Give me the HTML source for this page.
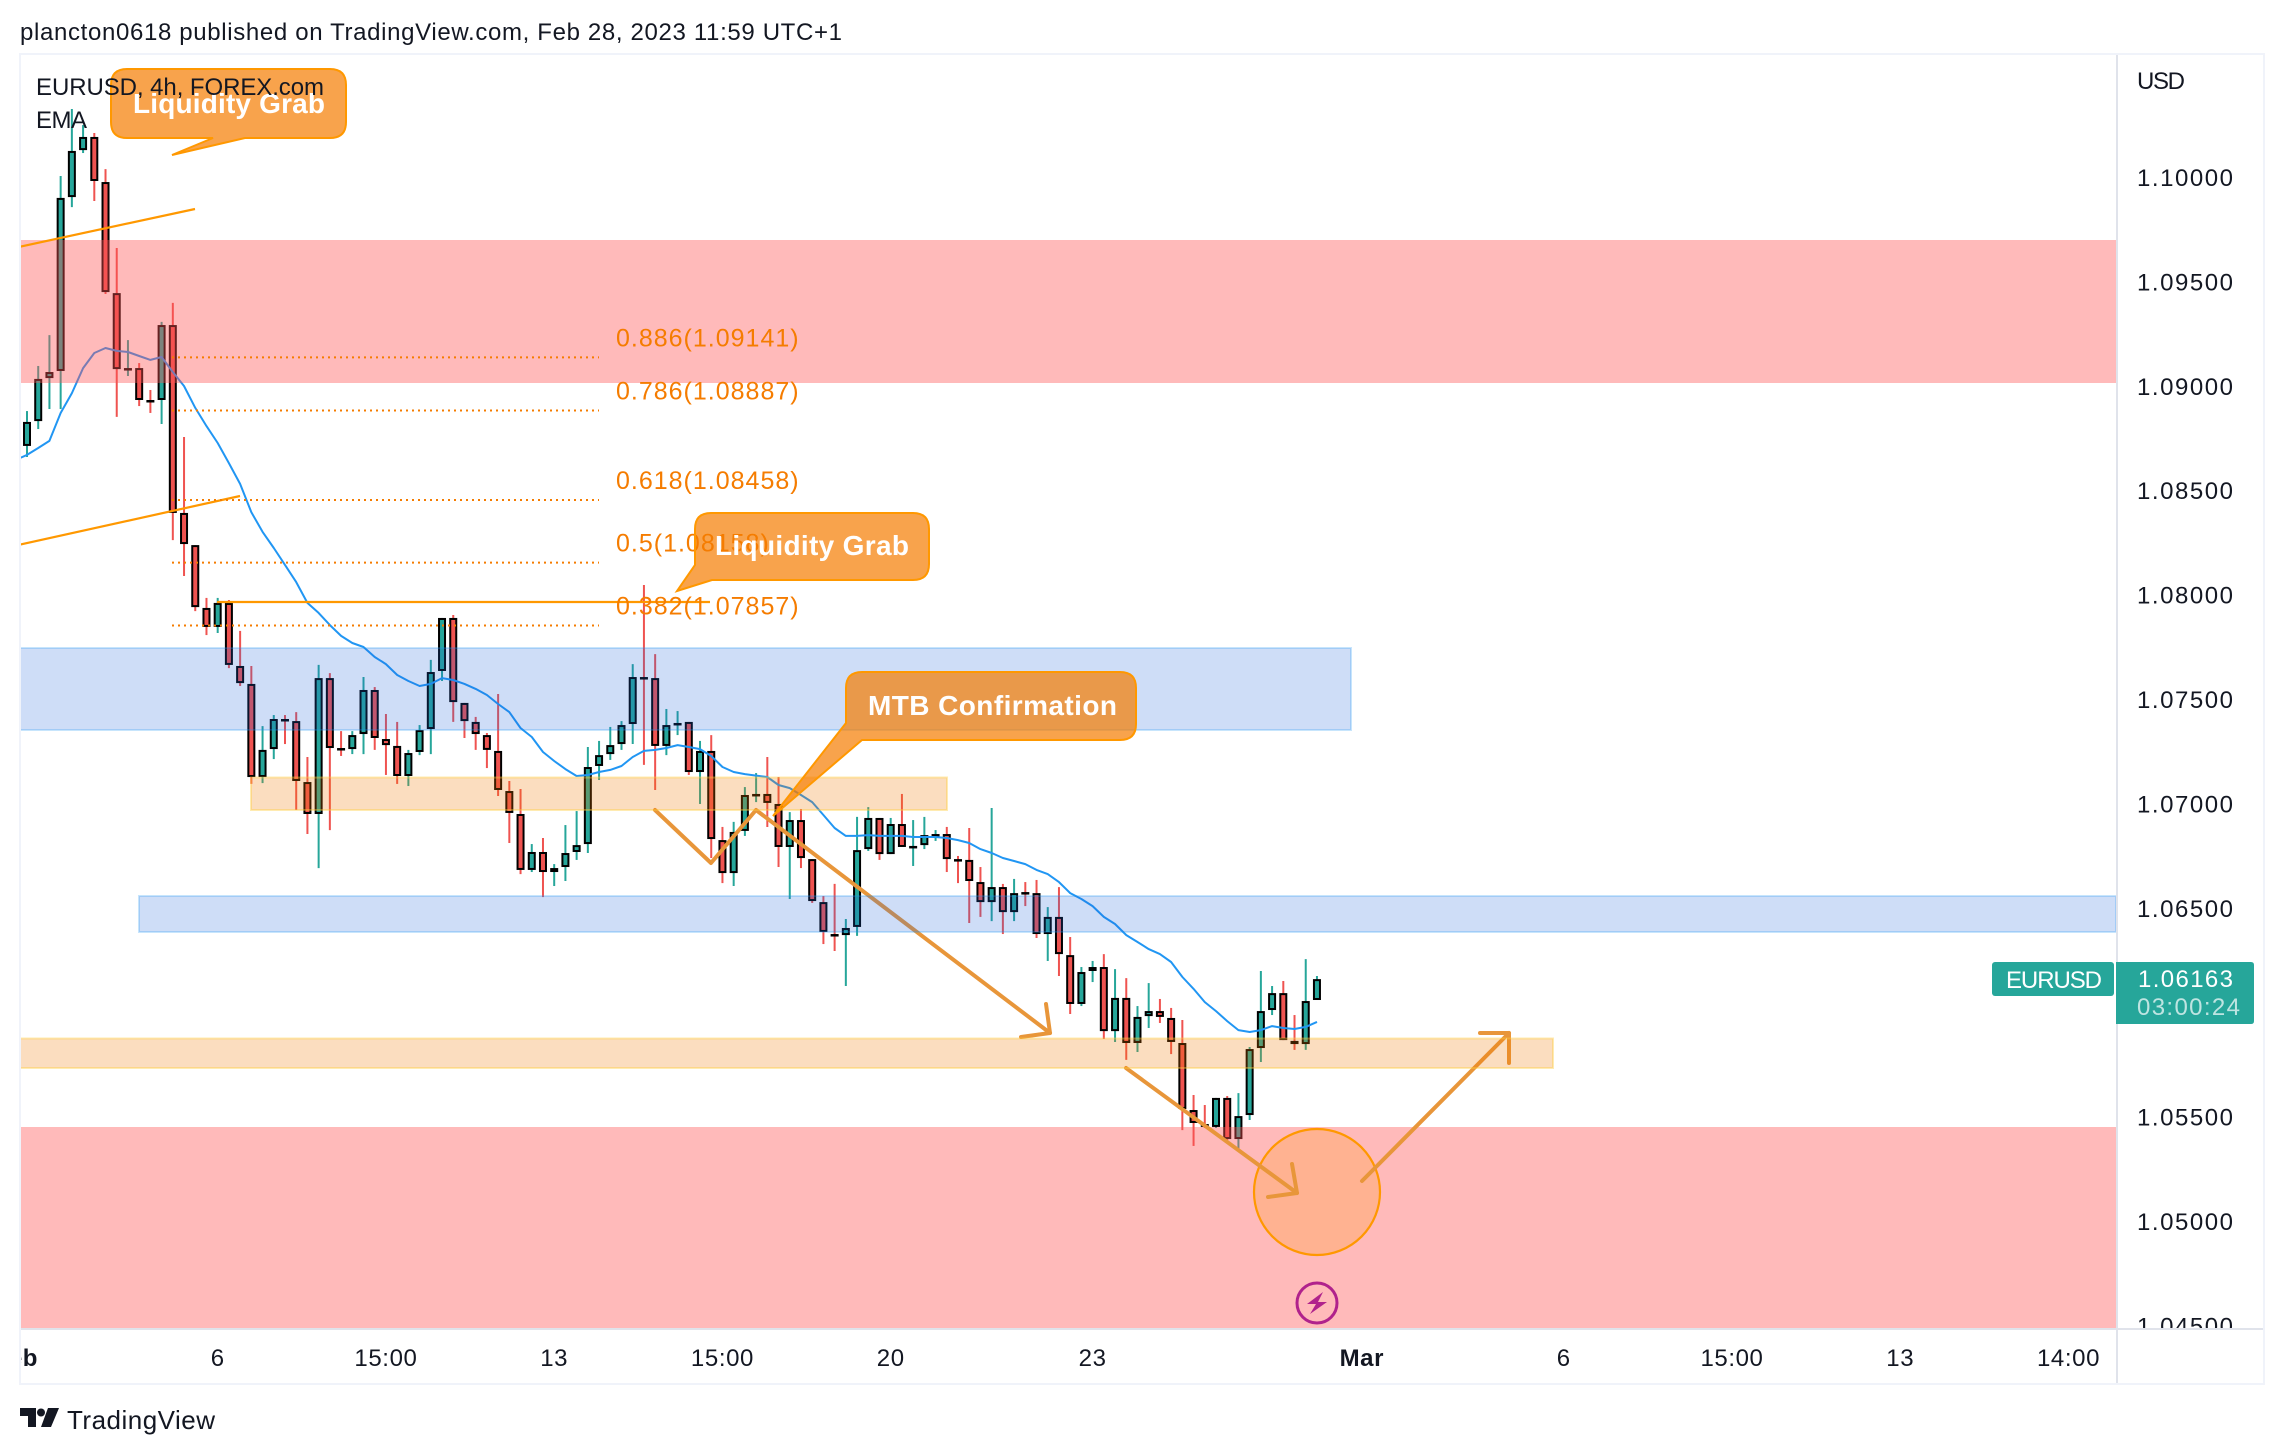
<!DOCTYPE html>
<html><head><meta charset="utf-8"><title>EURUSD 4h chart</title>
<style>
html,body{margin:0;padding:0;background:#fff;width:2284px;height:1454px;overflow:hidden}
svg{display:block}
text{font-family:"Liberation Sans",sans-serif;fill:#131722}
</style></head>
<body>
<svg id="chart" xmlns="http://www.w3.org/2000/svg" width="2284" height="1454" viewBox="0 0 2284 1454">
<defs>
<clipPath id="plotClip"><rect x="21" y="55" width="2095" height="1273"/></clipPath>
<clipPath id="axisClip"><rect x="2118" y="55" width="145" height="1273"/></clipPath>
<clipPath id="timeClip"><rect x="21" y="1330" width="2095" height="53"/></clipPath>
</defs>
<rect width="2284" height="1454" fill="#fff"/>
<text x="20" y="40" font-size="24" textLength="822" lengthAdjust="spacing">plancton0618 published on TradingView.com, Feb 28, 2023 11:59 UTC+1</text>

<g clip-path="url(#plotClip)">
  <g id="candles"></g>
  <g id="emaLayer"></g>
  <rect x="20" y="240" width="2096" height="143" fill="rgba(255,82,82,.4)"/>
  <rect x="20" y="1127" width="2096" height="202" fill="rgba(255,82,82,.4)"/>
  <line x1="0" y1="251" x2="195" y2="209" stroke="#ff9800" stroke-width="2.2"/>
  <line x1="0" y1="549" x2="240" y2="496" stroke="#ff9800" stroke-width="2.2"/>
  <line x1="217" y1="602" x2="710" y2="602" stroke="#ff9800" stroke-width="2.2"/>
  <g id="fibLayer"></g>
  <circle cx="1317" cy="1192" r="63" fill="rgba(255,152,0,.22)" stroke="#ff9800" stroke-width="2.2"/>
  <g fill="none" stroke="#e8963a" stroke-width="4" stroke-linecap="round" stroke-linejoin="round">
    <polyline points="655,810 711,863 756,810 1050,1033"/>
    <polyline points="1046,1004 1050,1033 1021,1037"/>
    <line x1="1126" y1="1068" x2="1297" y2="1193"/>
    <polyline points="1292,1164 1297,1193 1268,1197"/>
    <line x1="1362" y1="1181" x2="1509" y2="1033"/>
    <polyline points="1480,1033 1509,1033 1509,1063"/>
  </g>
  <rect x="20" y="648" width="1331" height="82" fill="rgba(30,100,220,.22)" stroke="rgba(33,150,243,.25)" stroke-width="2"/>
  <rect x="139" y="896" width="1977" height="36" fill="rgba(30,100,220,.22)" stroke="rgba(33,150,243,.25)" stroke-width="2"/>
  <rect x="251" y="777.5" width="696" height="32.5" fill="rgba(240,120,0,.25)" stroke="rgba(255,205,60,.4)" stroke-width="2"/>
  <rect x="10" y="1038.5" width="1543" height="29.5" fill="rgba(240,120,0,.25)" stroke="rgba(255,205,60,.4)" stroke-width="2"/>
  <path d="M127,69 H330 Q346,69 346,85 V122 Q346,138 330,138 H245 L172,155 L213,138 H127 Q111,138 111,122 V85 Q111,69 127,69Z" fill="rgba(245,124,0,.7)" stroke="#ff9800" stroke-width="2"/>
  <path d="M711,513 H913 Q929,513 929,529 V564 Q929,580 913,580 H712 L677,591 L695,565 V529 Q695,513 711,513Z" fill="rgba(245,124,0,.7)" stroke="#ff9800" stroke-width="2"/>
  <path d="M862,672 H1120 Q1136,672 1136,688 V724 Q1136,740 1120,740 H862 L773,816 L846,723 V688 Q846,672 862,672Z" fill="rgba(245,124,0,.7)" stroke="#ff9800" stroke-width="2"/>
  <text x="133" y="113" font-size="28" font-weight="700" textLength="192" lengthAdjust="spacing" style="fill:#fff">Liquidity Grab</text>
  <text x="715" y="555" font-size="28" font-weight="700" textLength="194" lengthAdjust="spacing" style="fill:#fff">Liquidity Grab</text>
  <text x="868" y="715" font-size="28" font-weight="700" textLength="249" lengthAdjust="spacing" style="fill:#fff">MTB Confirmation</text>
  <text x="36" y="95" font-size="24" textLength="288" lengthAdjust="spacing">EURUSD, 4h, FOREX.com</text>
  <text x="36" y="128" font-size="24" textLength="51" lengthAdjust="spacing">EMA</text>
  <circle cx="1317" cy="1303" r="20" fill="none" stroke="#b0228c" stroke-width="3"/>
  <polygon points="1323,1292 1307,1304 1316,1304 1310,1314 1327,1302 1318,1302" fill="#b0228c"/>
</g>

<g clip-path="url(#axisClip)" id="priceAxis"></g>
<g clip-path="url(#timeClip)" id="timeAxis"></g>
<text x="2137" y="89" font-size="24" textLength="48" lengthAdjust="spacing">USD</text>

<rect x="2116" y="54" width="2" height="1330" fill="#e0e3eb"/>
<rect x="20" y="1328" width="2244" height="2" fill="#e0e3eb"/>
<rect x="20" y="54" width="2244" height="1330" fill="none" stroke="#f0f3fa" stroke-width="2"/>

<rect x="1992" y="962" width="122" height="34" rx="3" fill="#26a69a"/>
<text x="2006" y="988" font-size="24" textLength="96" lengthAdjust="spacing" style="fill:#fff">EURUSD</text>
<path d="M2116,962 H2251 Q2254,962 2254,965 V1021 Q2254,1024 2251,1024 H2116Z" fill="#26a69a"/>
<text x="2138" y="987" font-size="24" textLength="95" lengthAdjust="spacing" style="fill:#fff">1.06163</text>
<text x="2137" y="1015" font-size="24" textLength="103" lengthAdjust="spacing" style="fill:rgba(255,255,255,.7)">03:00:24</text>

<g>
  <polygon points="20,1408 36,1408 36,1427 28,1427 28,1416 20,1416" fill="#131722"/>
  <circle cx="41" cy="1412.5" r="4" fill="#131722"/>
  <polygon points="48,1408 59,1408 51,1427 41,1427" fill="#131722"/>
  <text x="67" y="1429" font-size="26" textLength="148" lengthAdjust="spacing">TradingView</text>
</g>
</svg>
<script>
const opens=[1.08717,1.08836,1.09042,1.09076,1.09909,1.10134,1.10197,1.09981,1.09449,1.09085,1.09090,1.08937,1.08937,1.09296,1.08396,1.08242,1.07941,1.07850,1.07965,1.07663,1.07577,1.07131,1.07265,1.07409,1.07399,1.07107,1.06954,1.07605,1.07270,1.07265,1.07337,1.07548,1.07313,1.07280,1.07136,1.07251,1.07361,1.07639,1.07893,1.07486,1.07395,1.07332,1.07256,1.07064,1.06954,1.06686,1.06772,1.06676,1.06700,1.06772,1.06810,1.07184,1.07241,1.07289,1.07385,1.07610,1.07605,1.07280,1.07380,1.07395,1.07155,1.07256,1.06829,1.06671,1.06873,1.07045,1.07050,1.07002,1.06796,1.06925,1.06738,1.06532,1.06379,1.06374,1.06413,1.06786,1.06935,1.06762,1.06906,1.06796,1.06805,1.06853,1.06858,1.06738,1.06734,1.06628,1.06532,1.06604,1.06484,1.06580,1.06575,1.06379,1.06461,1.06278,1.06044,1.06202,1.06221,1.05914,1.06073,1.05857,1.05986,1.06010,1.05977,1.05857,1.05536,1.05469,1.05455,1.05594,1.05397,1.05512,1.05833,1.06015,1.06096,1.05867,1.05852,1.06063];
const closes=[1.08832,1.09038,1.09071,1.09905,1.10130,1.10197,1.09986,1.09454,1.09085,1.09090,1.08937,1.08932,1.09296,1.08396,1.08247,1.07945,1.07850,1.07965,1.07668,1.07581,1.07131,1.07261,1.07409,1.07404,1.07112,1.06954,1.07605,1.07270,1.07265,1.07332,1.07548,1.07318,1.07284,1.07136,1.07246,1.07356,1.07634,1.07893,1.07490,1.07399,1.07337,1.07261,1.07069,1.06959,1.06686,1.06772,1.06676,1.06695,1.06767,1.06805,1.07179,1.07236,1.07284,1.07380,1.07610,1.07605,1.07280,1.07380,1.07390,1.07155,1.07256,1.06834,1.06671,1.06868,1.07045,1.07050,1.07007,1.06796,1.06925,1.06743,1.06537,1.06389,1.06374,1.06408,1.06781,1.06935,1.06762,1.06906,1.06796,1.06801,1.06853,1.06858,1.06738,1.06734,1.06633,1.06532,1.06604,1.06484,1.06575,1.06575,1.06379,1.06461,1.06283,1.06044,1.06197,1.06221,1.05914,1.06073,1.05857,1.05982,1.06010,1.05982,1.05862,1.05541,1.05474,1.05455,1.05594,1.05397,1.05507,1.05828,1.06010,1.06096,1.05871,1.05852,1.06058,1.06163];
const highs=[1.08884,1.09100,1.09248,1.10010,1.10331,1.10254,1.10216,1.10043,1.09665,1.09224,1.09114,1.08985,1.09311,1.09402,1.08760,1.08242,1.07989,1.07989,1.07979,1.07831,1.07663,1.07375,1.07428,1.07428,1.07442,1.07227,1.07668,1.07629,1.07351,1.07351,1.07610,1.07562,1.07433,1.07395,1.07261,1.07380,1.07692,1.07893,1.07907,1.07486,1.07419,1.07342,1.07529,1.07112,1.07074,1.06810,1.06839,1.06714,1.06901,1.06968,1.07275,1.07304,1.07371,1.07399,1.07672,1.08051,1.07720,1.07457,1.07447,1.07395,1.07304,1.07332,1.06892,1.06916,1.07083,1.07150,1.07227,1.07131,1.06963,1.06978,1.06738,1.06561,1.06619,1.06451,1.06940,1.06987,1.06935,1.06935,1.07050,1.06925,1.06940,1.06877,1.06892,1.06753,1.06887,1.06700,1.06983,1.06619,1.06643,1.06628,1.06638,1.06508,1.06604,1.06365,1.06221,1.06250,1.06283,1.06211,1.06168,1.06034,1.06144,1.06068,1.06025,1.05967,1.05608,1.05560,1.05594,1.05603,1.05617,1.05838,1.06202,1.06130,1.06154,1.05991,1.06259,1.06178];
const lows=[1.08664,1.08798,1.08894,1.08894,1.09861,1.10120,1.09890,1.09445,1.08856,1.09052,1.08908,1.08875,1.08822,1.08266,1.08094,1.07926,1.07811,1.07821,1.07653,1.07567,1.07098,1.07102,1.07217,1.07289,1.06973,1.06858,1.06695,1.06877,1.07232,1.07241,1.07241,1.07261,1.07141,1.07098,1.07088,1.07236,1.07241,1.07591,1.07395,1.07318,1.07261,1.07174,1.07040,1.06815,1.06666,1.06676,1.06556,1.06609,1.06633,1.06734,1.06767,1.07117,1.07213,1.07261,1.07289,1.07189,1.07069,1.07236,1.07332,1.07141,1.07002,1.06743,1.06623,1.06609,1.06849,1.07011,1.06892,1.06700,1.06547,1.06695,1.06528,1.06331,1.06298,1.06130,1.06370,1.06777,1.06734,1.06762,1.06796,1.06705,1.06786,1.06825,1.06676,1.06623,1.06432,1.06461,1.06441,1.06379,1.06441,1.06513,1.06360,1.06250,1.06178,1.05996,1.06034,1.06149,1.05876,1.05862,1.05776,1.05814,1.05929,1.05953,1.05804,1.05440,1.05364,1.05450,1.05450,1.05392,1.05344,1.05488,1.05766,1.05991,1.05871,1.05824,1.05824,1.06063];
const emaStartBar=-1;
const emaValues=[1.08650,1.08674,1.08707,1.08741,1.08875,1.08970,1.09090,1.09162,1.09186,1.09172,1.09167,1.09148,1.09129,1.09143,1.09071,1.09004,1.08899,1.08812,1.08731,1.08635,1.08535,1.08400,1.08305,1.08228,1.08147,1.08065,1.07965,1.07917,1.07859,1.07807,1.07773,1.07754,1.07706,1.07672,1.07620,1.07591,1.07567,1.07577,1.07605,1.07596,1.07577,1.07553,1.07524,1.07481,1.07442,1.07366,1.07323,1.07251,1.07208,1.07169,1.07136,1.07141,1.07155,1.07165,1.07184,1.07227,1.07256,1.07261,1.07270,1.07284,1.07275,1.07265,1.07232,1.07179,1.07155,1.07145,1.07138,1.07131,1.07093,1.07078,1.07045,1.07011,1.06949,1.06887,1.06849,1.06849,1.06853,1.06849,1.06849,1.06849,1.06844,1.06844,1.06844,1.06839,1.06829,1.06815,1.06786,1.06767,1.06743,1.06729,1.06714,1.06686,1.06666,1.06628,1.06575,1.06547,1.06513,1.06461,1.06427,1.06374,1.06341,1.06307,1.06283,1.06245,1.06173,1.06116,1.06053,1.06010,1.05962,1.05919,1.05910,1.05919,1.05938,1.05929,1.05924,1.05934,1.05958];
const priceTicks=[1.10,1.095,1.09,1.085,1.08,1.075,1.07,1.065,1.055,1.05,1.045];
const timeLabels=["Feb","6","15:00","13","15:00","20","23","Mar","6","15:00","13","14:00"];
const timeBars=[-1,17,32,47,62,77,95,119,137,152,167,182];
const timeBold=[true,false,false,false,false,false,false,true,false,false,false,false];
const fibRatios=["0.886","0.786","0.618","0.5","0.382"];
const fibPrices=[1.09141,1.08887,1.08458,1.08158,1.07857];

const NS='http://www.w3.org/2000/svg';
const xScale=i=>27+i*11.217;
const yScale=p=>(1.10853-p)*20877;
function mk(tag,attrs,parent){
  const e=document.createElementNS(NS,tag);
  for(const k in attrs)e.setAttribute(k,attrs[k]);
  parent.appendChild(e);
  return e;
}
const candlesG=document.getElementById('candles');
opens.forEach((o,i)=>{
  const c=closes[i],up=c>=o,x=xScale(i);
  const color=up?'#26a69a':'#ef5350';
  const g=mk('g',{},candlesG);
  
  
  const wick=mk('line',{x1:x,x2:x,y1:yScale(highs[i]),y2:yScale(lows[i]),stroke:color,'stroke-width':2},g);
  
  
  const top=yScale(Math.max(o,c)),bot=yScale(Math.min(o,c));
  const body=mk('rect',{x:x-3,y:top+1,width:6,height:Math.max(0.5,bot-top-2),fill:color,stroke:'#000','stroke-width':2},g);
  
  
});
const emaPts=emaValues.map((v,i)=>xScale(i+emaStartBar).toFixed(1)+','+yScale(v).toFixed(1)).join(' ');
const emaLine=mk('polyline',{points:emaPts,fill:'none',stroke:'#2196f3','stroke-width':2,'stroke-linejoin':'round'},document.getElementById('emaLayer'));



const fibG=document.getElementById('fibLayer');
fibPrices.forEach((p,i)=>{
  const y=yScale(p);
  const l=mk('line',{x1:172,x2:599,y1:y,y2:y,stroke:'#f57c00','stroke-width':2,'stroke-dasharray':'2 4'},fibG);
  
  
  const t=mk('text',{x:616,y:y-11,'font-size':25,style:'fill:#f57c00'},fibG);
  
  
  t.textContent=fibRatios[i]+'('+p.toFixed(5)+')';
  t.setAttribute('letter-spacing','1');
});

const axisG=document.getElementById('priceAxis');
priceTicks.forEach(p=>{
  const t=mk('text',{x:2137,y:yScale(p)+8,'font-size':24,textLength:96,lengthAdjust:'spacing'},axisG);
  
  
  t.textContent=p.toFixed(5);
});
const timeG=document.getElementById('timeAxis');
timeLabels.forEach((s,i)=>{
  const t=mk('text',{x:xScale(timeBars[i]),y:1366,'font-size':24,'text-anchor':'middle','letter-spacing':'0.6','font-weight':timeBold[i]?'700':'400'},timeG);
  
  
  t.textContent=s;
});
</script>
</body></html>
